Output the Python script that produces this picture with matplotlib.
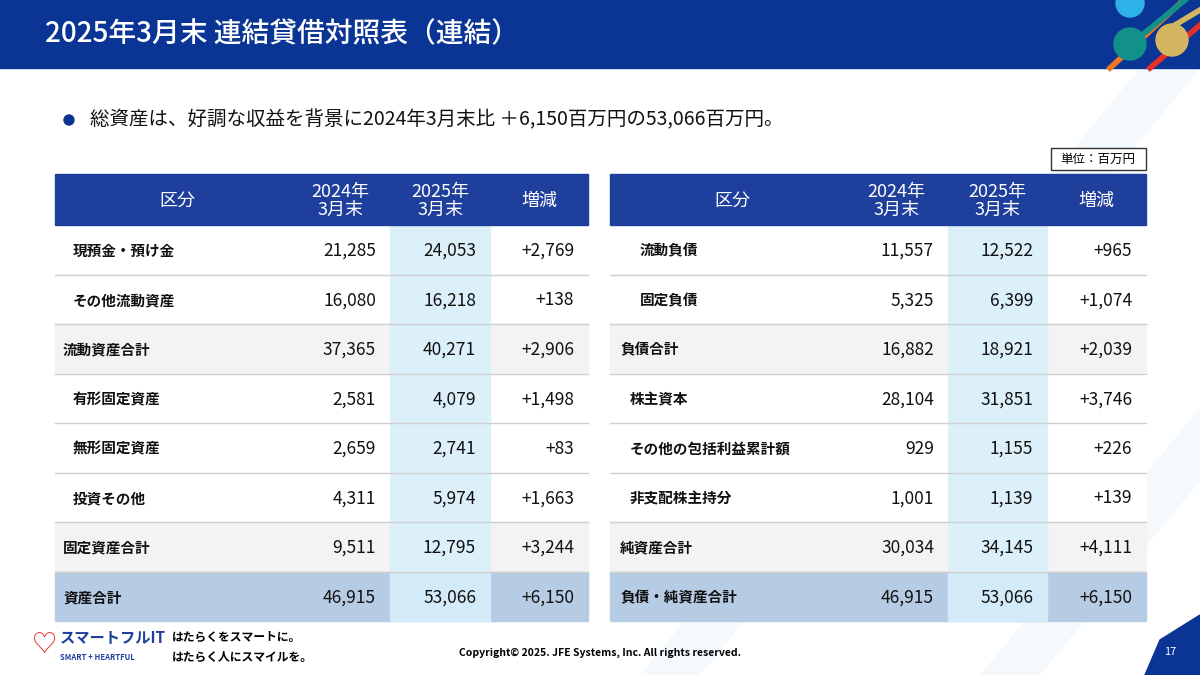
import matplotlib
matplotlib.use("Agg")
import matplotlib.pyplot as plt
from matplotlib.patches import Rectangle, Circle, Polygon

FONT = "Noto Sans CJK JP"
plt.rcParams["font.family"] = FONT

title = "2025年3月末 連結貸借対照表（連結）"
bullet = "総資産は、好調な収益を背景に2024年3月末比 ＋6,150百万円の53,066百万円。"
headers = ["区分", "2024年\n3月末", "2025年\n3月末", "増減"]

left_labels = ["現預金・預け金", "その他流動資産", "流動資産合計", "有形固定資産",
               "無形固定資産", "投資その他", "固定資産合計", "資産合計"]
left_2024 = [21285, 16080, 37365, 2581, 2659, 4311, 9511, 46915]
left_2025 = [24053, 16218, 40271, 4079, 2741, 5974, 12795, 53066]
left_diff = [2769, 138, 2906, 1498, 83, 1663, 3244, 6150]
left_level = [2, 2, 1, 2, 2, 2, 1, 0]

right_labels = ["流動負債", "固定負債", "負債合計", "株主資本",
                "その他の包括利益累計額", "非支配株主持分", "純資産合計", "負債・純資産合計"]
right_2024 = [11557, 5325, 16882, 28104, 929, 1001, 30034, 46915]
right_2025 = [12522, 6399, 18921, 31851, 1155, 1139, 34145, 53066]
right_diff = [965, 1074, 2039, 3746, 226, 139, 4111, 6150]
right_level = [3, 3, 1, 2, 2, 2, 1, 1]

fig = plt.figure(figsize=(12, 6.75), dpi=100)
ax = fig.add_axes([0, 0, 1, 1])
ax.set_xlim(0, 1200)
ax.set_ylim(675, 0)
ax.axis("off")

NAVY = "#0b3594"
HEAD = "#1f3f9c"

for x0 in [640, 980]:
    ax.add_patch(Polygon([[x0, 675], [x0 + 60, 675], [x0 + 560, 68], [x0 + 500, 68]],
                         closed=True, color="#f3f9fd", lw=0, zorder=0))
ax.add_patch(Rectangle((0, 0), 1200, 68, color=NAVY, zorder=1))
ax.text(45, 34, title, color="white", fontsize=20, fontweight="medium",
        va="center", ha="left", zorder=2)
ax.plot([1110, 1200], [68, -15], color="#f07820", lw=4, zorder=2)
ax.plot([1150, 1200], [68, 25], color="#e8302a", lw=4, zorder=2)
ax.plot([1130, 1185], [45, 0], color="#12908a", lw=4, zorder=2)
ax.plot([1170, 1200], [28, 10], color="#d4b560", lw=4, zorder=2)
ax.add_patch(Circle((1130, 3), 14, color="#2eb1e8", zorder=3))
ax.add_patch(Circle((1130, 44), 16, color="#12908a", zorder=3))
ax.add_patch(Circle((1172, 40), 16, color="#d4b560", zorder=3))

ax.add_patch(Circle((69, 120), 5, color=NAVY, zorder=2))
ax.text(90, 120, bullet, fontsize=14, va="center", ha="left", color="#111111")

ax.add_patch(Rectangle((1051, 148), 95, 22, facecolor="white", edgecolor="#333333", lw=1, zorder=2))
ax.text(1098, 159, "単位：百万円", fontsize=9, ha="center", va="center", zorder=3)

def fmt(v):
    return f"{v:,}"

def table(x_edges, labels, v1, v2, vd, level, indent):
    y0, hh, rh = 174, 51, 49.5
    x_l, x_r = x_edges[0], x_edges[-1]
    ax.add_patch(Rectangle((x_l, y0), x_r - x_l, hh, color=HEAD, zorder=2))
    for i, h in enumerate(headers):
        cx = (x_edges[i] + x_edges[i + 1]) / 2
        if i == 0:
            cx = (x_edges[0] + x_edges[1]) / 2 + 5
        ax.text(cx, y0 + hh / 2 + 1, h, color="white", fontsize=13, ha="center", va="center",
                linespacing=1.0, zorder=3)
    n = len(labels)
    for r in range(n):
        top = y0 + hh + r * rh
        last = r == n - 1
        total = level[r] in (0, 1)
        bg = "#b6cbe4" if last else ("#f3f3f3" if total else "white")
        ax.add_patch(Rectangle((x_l, top), x_r - x_l, rh, color=bg, zorder=1.5))
        c25 = "#d3ebf8" if last else "#dcf0fa"
        ax.add_patch(Rectangle((x_edges[2], top), x_edges[3] - x_edges[2], rh, color=c25, zorder=1.6))
        if not last:
            ax.plot([x_l, x_r], [top + rh, top + rh], color="#cfcfcf", lw=1, zorder=2)
        cy = top + rh / 2 + 1
        ax.text(x_l + indent[level[r]], cy, labels[r], fontsize=10.5, fontweight="bold",
                ha="left", va="center", color="#111111", zorder=3)
        for j, v in enumerate([fmt(v1[r]), fmt(v2[r]), "+" + fmt(vd[r])]):
            ax.text(x_edges[j + 2] - 14, cy, v, fontsize=12.5, ha="right", va="center",
                    color="#111111", zorder=3)

table([55, 290, 390, 490, 588], left_labels, left_2024, left_2025, left_diff, left_level,
      {0: 8, 1: 8, 2: 18})
table([610, 845, 948, 1047, 1146], right_labels, right_2024, right_2025, right_diff, right_level,
      {0: 10, 1: 10, 2: 20, 3: 30})

# footer
ax.text(44, 645, "♡", fontsize=18, color="#e8302a", ha="center", va="center")
ax.text(60, 637, "スマートフルIT", fontsize=11, fontweight="bold", color="#1f3f9c", va="center")
ax.text(60, 657, "SMART + HEARTFUL", fontsize=5.5, fontweight="bold", color="#1f3f9c", va="center")
ax.text(172, 637, "はたらくをスマートに。", fontsize=8.5, fontweight="bold", va="center")
ax.text(172, 657, "はたらく人にスマイルを。", fontsize=8.5, fontweight="bold", va="center")
ax.text(600, 653, "Copyright© 2025. JFE Systems, Inc. All rights reserved.", fontsize=7.5,
        fontweight="bold", ha="center", va="center")
ax.add_patch(Polygon([[1145, 675], [1160, 640], [1200, 615], [1200, 675]], color=NAVY, zorder=2))
ax.text(1170, 652, "17", color="white", fontsize=8, ha="center", va="center", zorder=3)

fig.savefig("out.png", dpi=100)
